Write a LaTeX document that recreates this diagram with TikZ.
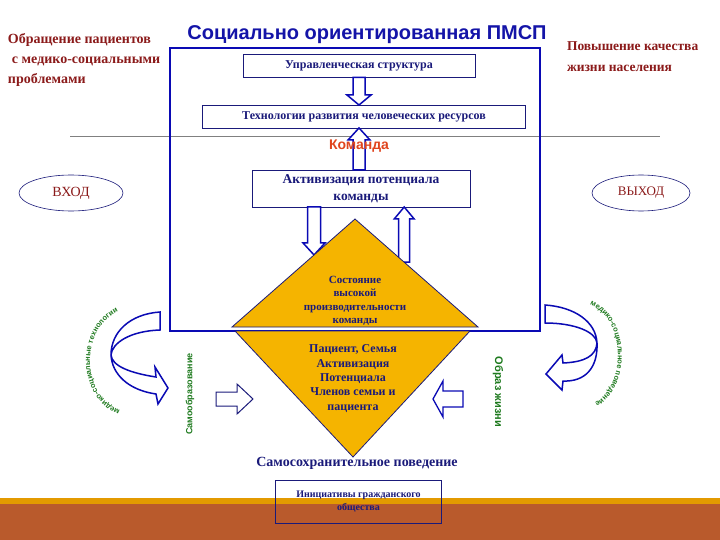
\documentclass[tikz,border=0pt]{standalone}
\usepackage{fontspec}
\setmainfont{Liberation Serif}
\setsansfont{Liberation Sans}
\usetikzlibrary{calc,decorations.text,shapes.geometric}
\definecolor{dred}{HTML}{8B1A1A}
\definecolor{navy}{HTML}{1A1A7A}
\definecolor{rblue}{HTML}{0A0AB4}
\definecolor{gold}{HTML}{F5B400}
\definecolor{rust}{HTML}{B95A2C}
\definecolor{ostripe}{HTML}{E39A00}
\definecolor{gtext}{HTML}{1E7A1E}
\definecolor{kred}{HTML}{E0441E}
\definecolor{titleblue}{HTML}{1414A8}
\newcommand\hollowarrow[6][]{%
  \coordinate (ha-s) at (#2);
  \coordinate (ha-e) at (#3);
  \coordinate (ha-h) at ($(ha-e)!#6!(ha-s)$);
  \draw[hollow,#1] ($(ha-s)!#4!90:(ha-e)$) -- ($(ha-h)!#4!90:(ha-e)$) -- ($(ha-h)!#5!90:(ha-e)$) -- (ha-e) -- ($(ha-h)!#5!-90:(ha-e)$) -- ($(ha-h)!#4!-90:(ha-e)$) -- ($(ha-s)!#4!-90:(ha-e)$) -- cycle;
}
\begin{document}
\begin{tikzpicture}[x=1pt,y=-1pt,
  every node/.style={inner sep=0pt, outer sep=0pt},
  boxn/.style={draw=navy, line width=0.8pt, fill=white, align=center, text=navy},
  redtxt/.style={text=dred, font=\bfseries\fontsize{14}{16}\selectfont, anchor=base west},
  hollow/.style={draw=rblue, line width=1.5pt, fill=white, line join=miter},
  tri/.style={draw=navy, line width=0.8pt, fill=gold, line join=miter},
  gtxt/.style={text=gtext, font=\sffamily\bfseries\fontsize{9}{9}\selectfont},
]
\useasboundingbox (0,0) rectangle (720,540);
\fill[white] (0,0) rectangle (720,540);
% bottom band
\fill[rust] (0,504) rectangle (720,540);
\fill[ostripe] (0,498) rectangle (720,504);
% grey divider
\draw[gray, line width=0.8pt] (70,136) -- (660,136);
% big frame
\draw[rblue, line width=2pt] (170,48) rectangle (540,331);
% title and side texts
\node[anchor=base, text=titleblue, font=\sffamily\bfseries\fontsize{20}{22}\selectfont] (title) at (367,40) {Социально ориентированная ПМСП};
\node[redtxt] (l1) at (8,44) {Обращение пациентов};
\node[redtxt] (l2) at (12,64) {с медико-социальными};
\node[redtxt] (l3) at (8,84) {проблемами};
\node[redtxt, font=\bfseries\fontsize{13.5}{15}\selectfont] (r1) at (567,51) {Повышение качества};
\node[redtxt, font=\bfseries\fontsize{13.5}{15}\selectfont] (r2) at (567,72) {жизни населения};
% boxes
\node[boxn, minimum width=232, minimum height=23, font=\bfseries\fontsize{12}{13}\selectfont] (upr) at (359,66) {Управленческая структура};
\node[boxn, minimum width=323, minimum height=23, font=\bfseries\fontsize{12}{13}\selectfont] (tech) at (364,116.5) {Технологии развития человеческих ресурсов};
\node[boxn, minimum width=218, minimum height=37, font=\bfseries\fontsize{13.5}{17}\selectfont] (akt) at (361,188.5) {Активизация потенциала\\команды};
% arrows between boxes
\hollowarrow{upr.south}{upr.south |- tech.north}{6pt}{12pt}{10pt}
\hollowarrow{upr.south |- akt.north}{upr.south |- tech.south}{6pt}{11pt}{12pt}
\node[text=kred, font=\sffamily\bfseries\fontsize{14}{16}\selectfont] (kom) at (359,146) {Команда};
% entry / exit
\node[ellipse, draw=navy, line width=0.6pt, minimum width=104, minimum height=36, text=dred, font=\fontsize{14}{16}\selectfont] (vhod) at (71,193) {ВХОД};
\node[ellipse, draw=navy, line width=0.6pt, minimum width=98, minimum height=36, text=dred, font=\fontsize{13}{15}\selectfont] (vyhod) at (641,193) {ВЫХОД};
% triangle corners
\coordinate (tA) at (355,219);
\coordinate (tL) at (232,327);
\coordinate (tR) at (478,327);
\coordinate (bL) at (235,331);
\coordinate (bR) at (470,331);
\coordinate (bA) at (353,457);
% arrows between box and triangle
\coordinate (dn-e) at ($(tA)!0.333!(tL)$);
\coordinate (dn-s) at (dn-e |- akt.south);
\coordinate (upa-s) at ($(tA)!0.40!(tR)$);
\coordinate (upa-e) at (upa-s |- akt.south);
\hollowarrow{dn-s}{dn-e}{6.5pt}{11pt}{12pt}
\hollowarrow{upa-s}{upa-e}{5.5pt}{10pt}{12pt}
% triangles
\draw[tri] (tA) -- (tR) -- (tL) -- cycle;
\draw[tri] (bL) -- (bR) -- (bA) -- cycle;
\node[align=center, text=navy, font=\bfseries\fontsize{11}{13.5}\selectfont] (up) at (355,301) {Состояние\\высокой\\производительности\\команды};
\node[align=center, text=navy, font=\bfseries\fontsize{12}{14.3}\selectfont] (low) at (353,378.5) {Пациент, Семья\\Активизация\\Потенциала\\Членов семьи и\\пациента};
% left curved arrow
\draw[hollow] (160,312) .. controls (130,314) and (111,332) .. (111,355)
  .. controls (112,366) and (130,373) .. (156,377) -- (155,367) -- (168,388) -- (158,404) -- (156,394)
  .. controls (128,390) and (112,374) .. (111,355)
  .. controls (112,343) and (130,331) .. (160,330) -- cycle;
% right curved arrow
\draw[hollow] (545,305) .. controls (575,307) and (596,322) .. (597,343)
  .. controls (596,356) and (585,362) .. (563,363) -- (562,355) -- (546,374) -- (562,390) -- (563,381)
  .. controls (585,382) and (598,368) .. (597,343)
  .. controls (596,332) and (575,323) .. (545,323) -- cycle;
% curved green texts
\path[decorate, decoration={text along path, text align=center,
  text={|\sffamily\bfseries\fontsize{7.5}{8}\selectfont\color{gtext}|медико-социальные технологии}}]
  (124,412) .. controls (79,398) and (79,326) .. (122,310);
\path[decorate, decoration={text along path, text align=center,
  text={|\sffamily\bfseries\fontsize{7.5}{8}\selectfont\color{gtext}|медико-социальное поведение}}]
  (588,304) .. controls (627,318) and (627,388) .. (593,404);
% vertical green texts
\node[gtxt, rotate=90] (samo) at (190,394) {Самообразование};
\node[gtxt, rotate=-90, font=\sffamily\bfseries\fontsize{11}{11}\selectfont] (obraz) at (498,392) {Образ жизни};
% small horizontal arrows
\coordinate (sa1) at (216,399);
\coordinate (sa2) at (253,399);
\coordinate (sb1) at (463,399);
\coordinate (sb2) at (433,399);
\hollowarrow[draw=navy, line width=1pt]{sa1}{sa2}{7pt}{15pt}{16pt}
\hollowarrow[line width=1.3pt]{sb1}{sb2}{8pt}{18pt}{10pt}
% bottom texts
\node[text=navy, font=\bfseries\fontsize{14}{16}\selectfont] (samos) at (357,463) {Самосохранительное поведение};
\node[draw=navy, line width=0.8pt, minimum width=166, minimum height=43, align=center, text=navy, font=\bfseries\fontsize{10}{12.5}\selectfont] (init) at (358.5,501.5) {Инициативы гражданского\\общества};
\end{tikzpicture}
\end{document}
